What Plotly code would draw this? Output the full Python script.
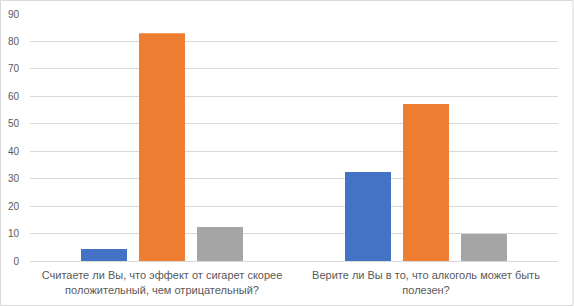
import plotly.graph_objects as go

categories = [
    "Считаете ли Вы, что эффект от сигарет скорее<br>положительный, чем отрицательный?",
    "Верите ли Вы в то, что алкоголь может быть<br>полезен?",
]
series_names = ["Да", "Нет", "Затрудняюсь ответить"]
series_values = [
    [4.4, 32.4],
    [83.0, 57.2],
    [12.4, 9.8],
]
colors = ["#4472C4", "#ED7D31", "#A5A5A5"]
y_ticks = [0, 10, 20, 30, 40, 50, 60, 70, 80, 90]

W, H = 574, 306
ml, mr, mt, mb = 30, 15.5, 14, 45

fig = go.Figure()
for name, vals, c in zip(series_names, series_values, colors):
    fig.add_trace(go.Bar(x=categories, y=vals, name=name, marker_color=c,
                         marker_line_width=0, showlegend=False))

pw = W - ml - mr
ph = H - mt - mb
fig.update_layout(
    template="none",
    width=W, height=H,
    margin=dict(l=ml, r=mr, t=mt, b=mb, pad=0),
    paper_bgcolor="white", plot_bgcolor="white",
    barmode="group", bargap=0.341, bargroupgap=0.207,
    font=dict(family="Liberation Sans, Arial, sans-serif", size=11, color="#595959"),
    yaxis=dict(range=[0, 90], tickvals=y_ticks, showgrid=True, gridcolor="#D9D9D9",
               gridwidth=1, zeroline=False, showline=False, ticks="",
               automargin=False,
               ticklabelstandoff=10, tickfont=dict(size=10, color="#595959")),
    xaxis=dict(showline=True, linecolor="#D9D9D9", linewidth=1, ticks="",
               automargin=False, showgrid=False, ticklabelstandoff=4, tickangle=0,
               tickfont=dict(size=11, color="#595959")),
    shapes=[dict(type="rect", xref="paper", yref="paper",
                 x0=(0.5 - ml) / pw, x1=(W - 0.5 - ml) / pw,
                 y0=-(mb - 0.5) / ph, y1=(ph + mt - 0.5) / ph,
                 line=dict(color="#D9D9D9", width=1), fillcolor="rgba(0,0,0,0)",
                 layer="below")],
)
fig.write_html("out.html", config={"displayModeBar": False},
               post_script="document.body.style.margin='0';document.body.style.padding='0';")
